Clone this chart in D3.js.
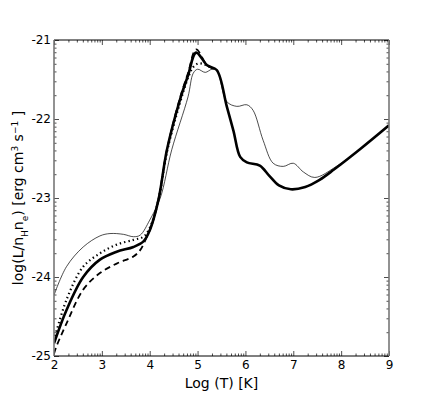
<!DOCTYPE html>
<html>
<head>
<meta charset="utf-8">
<script src="https://cdnjs.cloudflare.com/ajax/libs/d3/7.8.5/d3.min.js"></script>
<style>
body { margin: 0; background: #fff; }
svg text { font-family: "DejaVu Sans", sans-serif; fill: #000; }
</style>
</head>
<body>
<div id="chart"></div>
<script>
// log T values and cooling curves
var thickT = [2.0, 2.26, 2.61, 2.96, 3.31, 3.66, 3.87, 4.0, 4.18, 4.36, 4.63, 4.8, 4.97, 5.2, 5.4, 5.61, 5.75, 5.89, 6.03, 6.3, 6.5, 6.7, 6.95, 7.25, 7.55, 7.85, 8.4, 9.0];
var thickL = [-24.84, -24.42, -24.0, -23.78, -23.68, -23.62, -23.55, -23.41, -23.03, -22.39, -21.76, -21.45, -21.16, -21.32, -21.38, -21.84, -22.15, -22.48, -22.55, -22.59, -22.72, -22.84, -22.89, -22.86, -22.77, -22.64, -22.38, -22.08];

var thinT = [2.0, 2.26, 2.61, 2.96, 3.17, 3.45, 3.66, 3.8, 4.0, 4.22, 4.46, 4.8, 4.91, 5.0, 5.16, 5.3, 5.4, 5.61, 5.82, 6.03, 6.16, 6.37, 6.58, 6.79, 7.0, 7.21, 7.45, 7.9, 8.4, 9.0];
var thinL = [-24.23, -23.87, -23.62, -23.48, -23.45, -23.46, -23.49, -23.47, -23.28, -23.0, -22.39, -21.72, -21.42, -21.37, -21.41, -21.37, -21.38, -21.78, -21.84, -21.82, -21.89, -22.27, -22.56, -22.60, -22.56, -22.67, -22.74, -22.60, -22.38, -22.08];

var dotT = [2.0, 2.26, 2.61, 2.96, 3.31, 3.66, 3.87, 4.0, 4.18, 4.36, 4.63, 4.8, 4.9, 5.0, 5.1, 5.25, 5.4];
var dotL = [-24.8, -24.29, -23.87, -23.70, -23.59, -23.53, -23.49, -23.38, -23.03, -22.42, -21.8, -21.48, -21.35, -21.30, -21.30, -21.34, -21.38];

var dashT = [2.0, 2.05, 2.26, 2.61, 2.96, 3.31, 3.66, 3.8, 3.94, 4.05, 4.18, 4.36, 4.63, 4.8, 4.97, 5.2, 5.4];
var dashL = [-24.97, -24.88, -24.59, -24.16, -23.95, -23.83, -23.74, -23.66, -23.49, -23.33, -23.03, -22.39, -21.74, -21.42, -21.12, -21.32, -21.38];

var xTicks = [2, 3, 4, 5, 6, 7, 8, 9];
var yTicks = [-25, -24, -23, -22, -21];

var svg = d3.select("#chart").append("svg")
    .attr("width", 432).attr("height", 396);

var margin = {left: 54, right: 43, top: 40, bottom: 40};
var width = 432, height = 396;

var x = d3.scaleLinear().domain([2, 9]).range([margin.left, width - margin.right]);
var y = d3.scaleLinear().domain([-25, -21]).range([height - margin.bottom, margin.top]);

// minor ticks sit at n + log10(k), like the original
var xMinor = [], yMinor = [];
for (var n = 2; n < 9; n++) for (var k = 2; k < 10; k++) xMinor.push(n + Math.log10(k));
for (var n = -25; n < -21; n++) for (var k = 2; k < 10; k++) yMinor.push(n + Math.log10(k));

var clipId = "plotclip";
svg.append("clipPath").attr("id", clipId).append("rect")
    .attr("x", x(2)).attr("y", y(-21)).attr("width", x(9) - x(2)).attr("height", y(-25) - y(-21));

var line = d3.line().curve(d3.curveCatmullRom.alpha(0.5));
function pts(ts, ls) { return ts.map(function(t, i) { return [x(t), y(ls[i])]; }); }

var g = svg.append("g").attr("clip-path", "url(#" + clipId + ")");

g.append("path").attr("d", line(pts(dotT, dotL)))
  .attr("fill", "none").attr("stroke", "#000").attr("stroke-width", 2.2)
  .attr("stroke-dasharray", "1.4,3");
g.append("path").attr("d", line(pts(dashT, dashL)))
  .attr("fill", "none").attr("stroke", "#000").attr("stroke-width", 1.8)
  .attr("stroke-dasharray", "6,4");
g.append("path").attr("d", line(pts(thinT, thinL)))
  .attr("fill", "none").attr("stroke", "#000").attr("stroke-width", 0.7);
g.append("path").attr("d", line(pts(thickT, thickL)))
  .attr("fill", "none").attr("stroke", "#000").attr("stroke-width", 2.6);

// axes: ticks inward on all four sides
var bottom = svg.append("g").attr("transform", "translate(0," + y(-25) + ")")
  .call(d3.axisBottom(x).tickValues(xTicks).tickSizeInner(-5).tickSizeOuter(0).tickPadding(4).tickFormat(d3.format("d")));
var top = svg.append("g").attr("transform", "translate(0," + y(-21) + ")")
  .call(d3.axisTop(x).tickValues(xTicks).tickSizeInner(-5).tickSizeOuter(0).tickFormat(""));
var left = svg.append("g").attr("transform", "translate(" + x(2) + ",0)")
  .call(d3.axisLeft(y).tickValues(yTicks).tickSizeInner(-5).tickSizeOuter(0).tickPadding(3).tickFormat(d3.format("d")));
var right = svg.append("g").attr("transform", "translate(" + x(9) + ",0)")
  .call(d3.axisRight(y).tickValues(yTicks).tickSizeInner(-5).tickSizeOuter(0).tickFormat(""));

svg.append("g").attr("transform", "translate(0," + y(-25) + ")")
  .call(d3.axisBottom(x).tickValues(xMinor).tickSize(-2.5).tickFormat(""));
svg.append("g").attr("transform", "translate(0," + y(-21) + ")")
  .call(d3.axisTop(x).tickValues(xMinor).tickSize(-2.5).tickFormat(""));
svg.append("g").attr("transform", "translate(" + x(2) + ",0)")
  .call(d3.axisLeft(y).tickValues(yMinor).tickSize(-2.5).tickFormat(""));
svg.append("g").attr("transform", "translate(" + x(9) + ",0)")
  .call(d3.axisRight(y).tickValues(yMinor).tickSize(-2.5).tickFormat(""));

svg.selectAll(".domain").remove();
svg.selectAll(".tick line").attr("stroke", "#000").attr("stroke-width", 0.7);
svg.selectAll(".tick text").style("font-size", "12px").attr("fill", "#000");
left.selectAll(".tick text").text(function(d) { return d; });

// frame
svg.append("line").attr("x1", x(2)).attr("x2", x(9)).attr("y1", y(-21)).attr("y2", y(-21)).attr("stroke", "#000").attr("stroke-width", 1);
svg.append("line").attr("x1", x(2)).attr("x2", x(9)).attr("y1", y(-25)).attr("y2", y(-25)).attr("stroke", "#000").attr("stroke-width", 1);
svg.append("line").attr("x1", x(2)).attr("x2", x(2)).attr("y1", y(-21)).attr("y2", y(-25)).attr("stroke", "#777").attr("stroke-width", 1.6);
svg.append("line").attr("x1", x(9)).attr("x2", x(9)).attr("y1", y(-21)).attr("y2", y(-25)).attr("stroke", "#777").attr("stroke-width", 1.6);

// axis titles
svg.append("text").attr("x", (x(2) + x(9)) / 2).attr("y", 388)
  .attr("text-anchor", "middle").style("font-size", "14px").text("Log (T) [K]");

var yl = svg.append("text")
  .attr("transform", "translate(23," + ((y(-21) + y(-25)) / 2) + ") rotate(-90)")
  .attr("text-anchor", "middle").style("font-size", "14px");
yl.append("tspan").text("log(L/n");
yl.append("tspan").attr("baseline-shift", "sub").style("font-size", "9px").text("H");
yl.append("tspan").text("n");
yl.append("tspan").attr("baseline-shift", "sub").style("font-size", "9px").text("e");
yl.append("tspan").text(") [erg cm");
yl.append("tspan").attr("baseline-shift", "super").style("font-size", "9px").text("3");
yl.append("tspan").text(" s");
yl.append("tspan").attr("baseline-shift", "super").style("font-size", "9px").text("\u22121");
yl.append("tspan").text(" ]");
</script>
</body>
</html>
